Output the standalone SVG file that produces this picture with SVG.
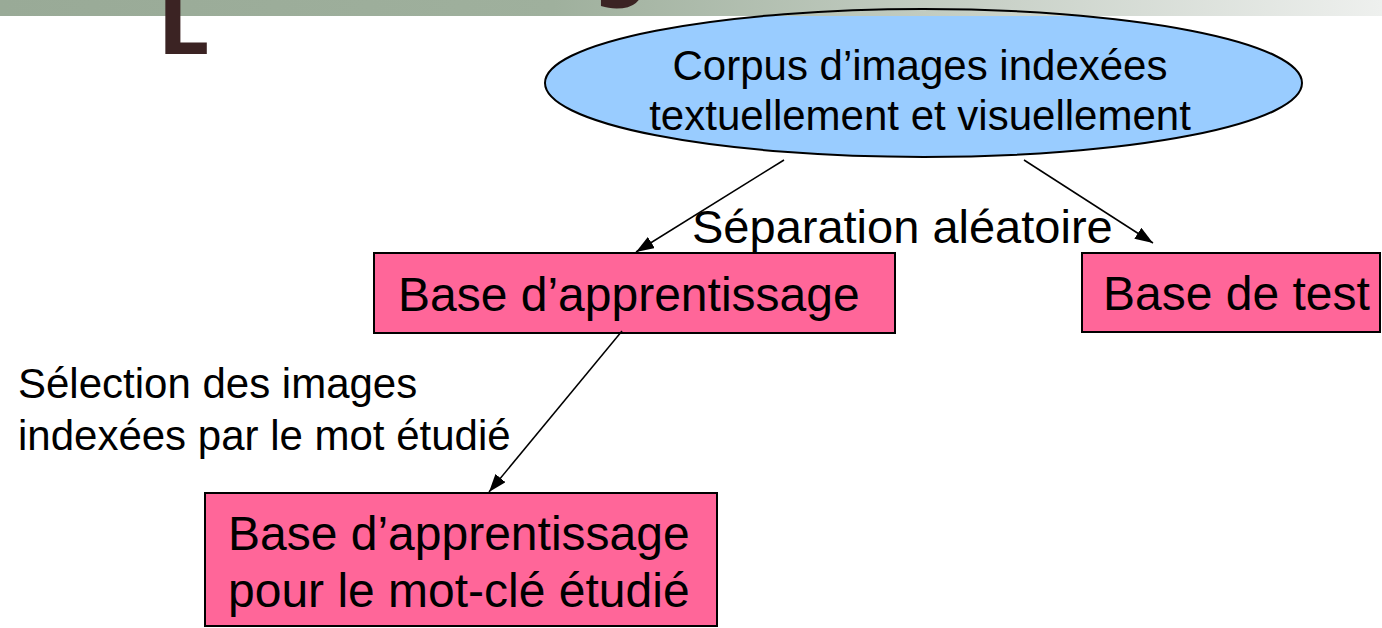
<svg xmlns="http://www.w3.org/2000/svg" width="1382" height="628" viewBox="0 0 1382 628">
  <defs>
    <linearGradient id="barGrad" x1="0" y1="0" x2="1" y2="0">
      <stop offset="0" stop-color="#99aa97"/>
      <stop offset="0.4" stop-color="#9fb09d"/>
      <stop offset="0.7" stop-color="#c6cfc5"/>
      <stop offset="1" stop-color="#eef0ee"/>
    </linearGradient>
    <marker id="arrow" viewBox="0 0 18 13" refX="18" refY="6.5" markerWidth="18" markerHeight="13" markerUnits="userSpaceOnUse" orient="auto">
      <path d="M0,0 L18,6.5 L0,13 z" fill="#000"/>
    </marker>
    <style>
      .t { font-family: "Liberation Sans", Arial, sans-serif; fill: #000; }
      .box { fill: #ff6699; stroke: #000; stroke-width: 2; }
      .conn { stroke: #000; stroke-width: 1.5; fill: none; marker-end: url(#arrow); }
      .title { font-family: "DejaVu Sans", sans-serif; font-weight: bold; fill: #3b2323; }
    </style>
  </defs>
  <rect x="0" y="0" width="1382" height="628" fill="#fff"/>

  <g id="corpus">
    <ellipse cx="923.5" cy="83" rx="378.5" ry="74" fill="#99ccff"/>
  </g>

  <g id="header">
    <rect x="0" y="0" width="1382" height="16" fill="url(#barGrad)"/>
    <text class="title" x="158" y="54" font-size="80">L</text>
    <text class="title" x="592" y="-9" font-size="80">g</text>
  </g>

  <g id="corpus-outline">
    <ellipse cx="923.5" cy="83" rx="378.5" ry="74" fill="none" stroke="#000" stroke-width="2"/>
    <text class="t" font-size="42" text-anchor="middle" x="920" y="80">Corpus d’images indexées</text>
    <text class="t" font-size="42" text-anchor="middle" x="920" y="130">textuellement et visuellement</text>
  </g>

  <g id="base-apprentissage">
    <rect class="box" x="374" y="253" width="521" height="80"/>
    <text class="t" font-size="48" x="398" y="311">Base d’apprentissage</text>
  </g>

  <g id="base-test">
    <rect class="box" x="1082" y="253" width="298" height="79"/>
    <text class="t" font-size="48" x="1103" y="310">Base de test</text>
  </g>

  <g id="base-mot-cle">
    <rect class="box" x="205" y="493" width="512" height="133"/>
    <text class="t" font-size="48" x="228" y="550">Base d’apprentissage</text>
    <text class="t" font-size="48" x="228" y="607">pour le mot-clé étudié</text>
  </g>

  <g id="connectors">
    <line class="conn" x1="784" y1="160" x2="636" y2="252"/>
    <line class="conn" x1="1024" y1="160" x2="1153" y2="243"/>
    <line class="conn" x1="622" y1="331" x2="489" y2="492"/>
  </g>

  <g id="labels">
    <text class="t" font-size="47" x="692" y="243">Séparation aléatoire</text>
    <text class="t" font-size="42" x="18" y="398">Sélection des images</text>
    <text class="t" font-size="42" x="18" y="450">indexées par le mot étudié</text>
  </g>
</svg>
